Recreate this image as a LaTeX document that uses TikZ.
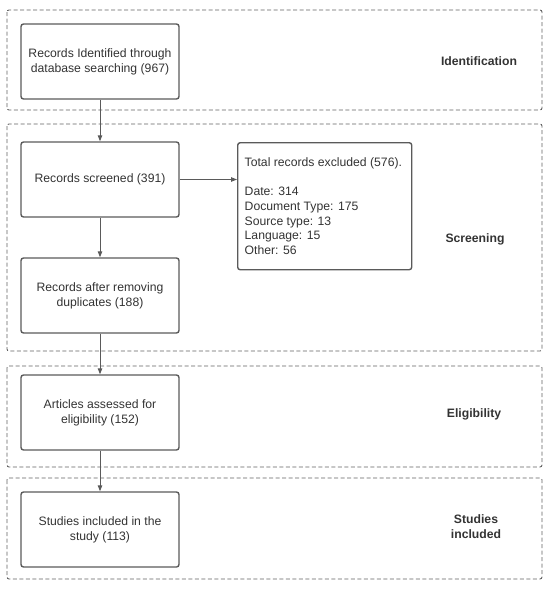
\documentclass[tikz,border=0pt]{standalone}
\usepackage{fontspec}
\setmainfont{Liberation Sans}
\usetikzlibrary{arrows.meta,calc}
\definecolor{txt}{HTML}{333333}
\definecolor{ln}{HTML}{5A5A5A}
\definecolor{dsh}{HTML}{606060}
\begin{document}
\begin{tikzpicture}[x=1pt,y=-1pt,
  phase/.style={draw=dsh,line width=0.9pt,dash pattern=on 4pt off 2.5pt,rounded corners=2pt},
  stepbox/.style={draw=ln,line width=1.4pt,rounded corners=2.5pt,minimum width=158pt,minimum height=75pt,
     align=center,text=txt,font=\fontsize{12.2}{15}\selectfont,inner sep=2pt},
  phlabel/.style={text=txt,font=\fontsize{12.2}{15}\selectfont\bfseries,align=center},
  conn/.style={draw=ln,line width=0.9pt,-{Triangle[length=6pt,width=4.5pt]}}]
\useasboundingbox (0,0) rectangle (550,589);
% phases
\draw[phase] (7,10) rectangle (542,110);
\draw[phase] (7,124) rectangle (542,351);
\draw[phase] (7,366) rectangle (542,467);
\draw[phase] (7,478) rectangle (542,579);
\node[phlabel] (lid) at (479,61) {Identification};
\node[phlabel] (lsc) at (475,239) {Screening};
\node[phlabel] (lel) at (474,414) {Eligibility};
\node[phlabel] (lst) at (476,527) {Studies\\included};
% boxes
\node[stepbox] (id) at (100,61.5) {Records Identified through\\database searching (967)};
\node[stepbox] (scr) at (100,179.5) {Records screened (391)};
\node[stepbox] (dup) at (100,295.5) {Records after removing\\duplicates (188)};
\node[stepbox] (art) at (100,412.5) {Articles assessed for\\eligibility (152)};
\node[stepbox] (stu) at (100,529.5) {Studies included in the\\study (113)};
\node[draw=ln,line width=1.4pt,rounded corners=2.5pt,minimum width=174pt,minimum height=127pt,
  text width=160pt,align=flush left,text=txt,font=\fontsize{12.2}{14.6}\selectfont,inner sep=7pt,anchor=north west]
  (exc) at (237,142) {Total records excluded (576).\\\mbox{}\\Date: 314\\Document Type: 175\\Source type: 13\\Language: 15\\Other: 56};
% connectors
\draw[conn] (id) -- (scr);
\draw[conn] (scr) -- (dup);
\draw[conn] (dup) -- (art);
\draw[conn] (art) -- (stu);
\draw[conn] (scr.east) -- (scr.east -| exc.west);
\end{tikzpicture}
\end{document}
